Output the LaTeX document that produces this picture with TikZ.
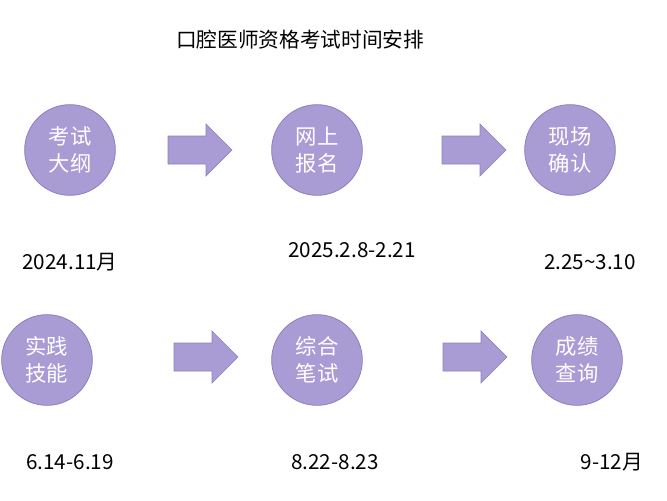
\documentclass[tikz,border=0pt]{standalone}
\usepackage{fontspec}
\setmainfont{Noto Sans CJK SC}
\definecolor{lav}{HTML}{A99BD4}
\definecolor{lavd}{HTML}{8E7FC0}
\begin{document}
\begin{tikzpicture}[x=0.75pt,y=-0.75pt,
  circ/.style={circle,fill=lav,draw=lavd,line width=0.6pt,minimum size=68pt,text=white,font=\fontsize{16}{20}\selectfont,align=center,inner sep=0pt},
  barrow/.style={fill=lav,draw=lavd,line width=0.5pt},
  lab/.style={font=\fontsize{15.5}{18}\selectfont,text=black},
  pics/blockarrow/.style={code={
    \path[barrow] (-32,-14) -- (6,-14) -- (6,-26) -- (32,0) -- (6,26) -- (6,14) -- (-32,14) -- cycle;}}]
\useasboundingbox (0,0) rectangle (667,500);
\node[font=\fontsize{15.5}{18}\selectfont] (title) at (300,40) {口腔医师资格考试时间安排};
\node[circ] (a) at (70,150) {考试\\大纲};
\node[circ] (b) at (317,150) {网上\\报名};
\node[circ] (c) at (570,150) {现场\\确认};
\node[circ] (d) at (47,360) {实践\\技能};
\node[circ] (e) at (317,360) {综合\\笔试};
\node[circ] (f) at (577,360) {成绩\\查询};
\pic at (200,150) {blockarrow};
\pic at (474,150) {blockarrow};
\pic at (206,357) {blockarrow};
\pic at (475,357) {blockarrow};
\node[lab] (la) at (70,262) {2024.11月};
\node[lab] (lb) at (352,250) {2025.2.8-2.21};
\node[lab] (lc) at (590,262) {2.25\textasciitilde3.10};
\node[lab] (ld) at (70,462) {6.14-6.19};
\node[lab] (le) at (335,462) {8.22-8.23};
\node[lab] (lf) at (612,462) {9-12月};
\end{tikzpicture}
\end{document}
